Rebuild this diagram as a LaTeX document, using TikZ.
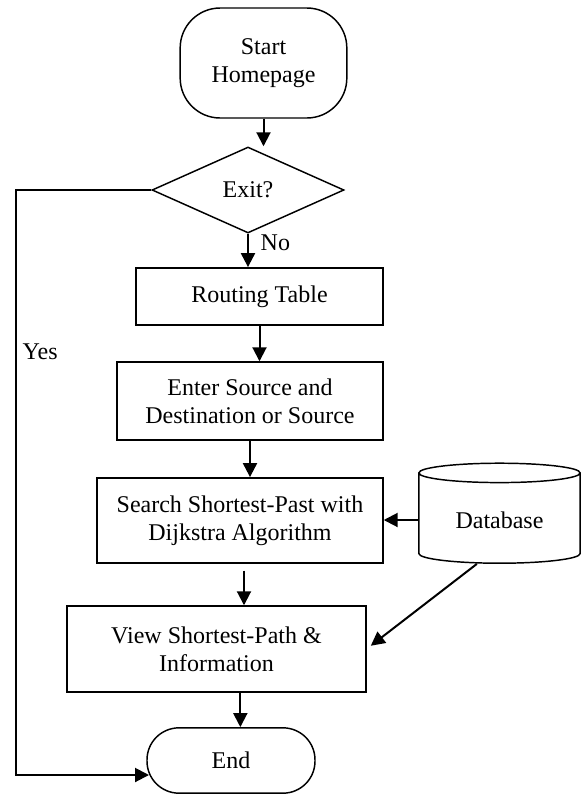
\documentclass[tikz,border=0pt]{standalone}
\usepackage{fontspec}
\setmainfont{Liberation Serif}
\usetikzlibrary{positioning,arrows.meta,shapes.geometric}

\begin{document}
\begin{tikzpicture}[
  x=0.75pt,y=-0.75pt,
  font=\fontsize{18}{21}\selectfont,
  box/.style={rectangle,draw,line width=1.1pt,align=center,inner sep=2pt},
  term/.style={box,rounded corners=30pt},
  decide/.style={diamond,draw,line width=1.1pt,inner sep=0pt,minimum width=144pt,minimum height=64.5pt},
  store/.style={cylinder,shape border rotate=90,draw,line width=1.1pt,aspect=0.2,minimum width=121pt,minimum height=75pt},
  arr/.style={-{Triangle[length=10.5pt,width=10.5pt]},line width=1.5pt}
]
\useasboundingbox (0,0) rectangle (587,794);
\node[term,minimum width=125pt,minimum height=82.5pt] (start) at (263.5,63) {Start\\Homepage};
\node[decide] (dec) at (248,190) {Exit?};
\node[box,minimum width=185pt,minimum height=43pt] (route) at (259.5,296.5) {Routing Table};
\node[box,minimum width=199.5pt,minimum height=58.5pt] (enter) at (250,401) {Enter Source and\\Destination or Source};
\node[box,minimum width=214.5pt,minimum height=64pt] (search) at (240,520.5) {Search Shortest-Past with\\Dijkstra Algorithm};
\node[store] (db) at (499.5,520) {Database};
\node[box,minimum width=224pt,minimum height=64.5pt] (view) at (216.5,649) {View Shortest-Path \&\\Information};
\node[term,rounded corners=24pt,minimum width=126pt,minimum height=49pt] (endn) at (231,760.5) {End};
\node[anchor=west] (yes) at (18,352) {Yes};
\node[anchor=west] (no) at (256,243) {No};
\coordinate (yesleft) at (16,775);
\coordinate (yesend) at (149,775);
\draw[arr] (start.south) -- (start.south |- dec.north);
\draw[arr] (dec.south) -- (dec.south |- route.north);
\draw[arr] (route.south) -- (route.south |- enter.north);
\draw[arr] (enter.south) -- (enter.south |- search.north);
\draw[arr,shorten <=5pt] ([xshift=3pt]search.south) -- ([xshift=3pt]search.south |- view.north);
\draw[arr] (db.west) -- (db.west -| search.east);
\draw[arr,shorten >=4pt] ([xshift=-17pt]db.south) -- (view.east);
\draw[arr] ([xshift=7pt]endn.north |- view.south) -- ([xshift=7pt]endn.north);
\draw[arr] (dec.west) -| (yesleft) -- (yesend);
\end{tikzpicture}
\end{document}
